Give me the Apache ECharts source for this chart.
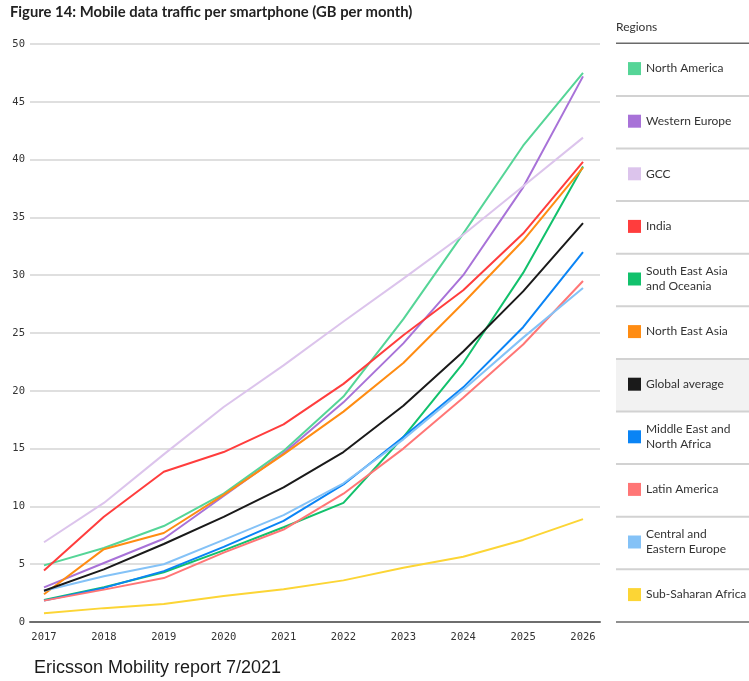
<!DOCTYPE html>
<html>
<head>
<meta charset="utf-8">
<script src="https://cdn.jsdelivr.net/npm/echarts@6/dist/echarts.min.js"></script>
<style>
html,body{margin:0;padding:0;background:#fff;}
#c{width:749px;height:681px;}
</style>
</head>
<body>
<div id="c"></div>
<script>
const years = ['2017','2018','2019','2020','2021','2022','2023','2024','2025','2026'];
const yTicks = [0,5,10,15,20,25,30,35,40,45,50];

const regionNames = ['North America','Western Europe','GCC','India','South East Asia and Oceania','North East Asia','Global average','Middle East and North Africa','Latin America','Central and Eastern Europe','Sub-Saharan Africa'];
const legendLabels = ['North America','Western Europe','GCC','India','South East Asia\nand Oceania','North East Asia','Global average','Middle East and\nNorth Africa','Latin America','Central and\nEastern Europe','Sub-Saharan Africa'];
const regionColors = ['#55d597','#a872d8','#dcc4ec','#ff3d3d','#12c16c','#ff8c12','#1a1a1a','#0a84f5','#ff7676','#84c2f7','#fcd535'];

const northAmerica   = [4.9, 6.4, 8.3, 11.1, 14.8, 19.5, 26.2, 33.6, 41.2, 47.5];
const westernEurope  = [3.0, 5.1, 7.2, 10.9, 14.6, 19.0, 24.1, 30.0, 37.6, 47.2];
const gcc            = [6.9, 10.3, 14.5, 18.6, 22.2, 26.0, 29.7, 33.5, 37.7, 41.9];
const india          = [4.45, 9.1, 13.0, 14.7, 17.1, 20.6, 24.8, 28.7, 33.6, 39.8];
const seaOceania     = [1.9, 3.0, 4.3, 6.2, 8.2, 10.3, 16.0, 22.4, 30.2, 39.4];
const northEastAsia  = [2.4, 6.3, 7.7, 11.0, 14.5, 18.2, 22.4, 27.6, 33.0, 39.3];
const globalAverage  = [2.7, 4.55, 6.75, 9.1, 11.65, 14.7, 18.7, 23.4, 28.6, 34.5];
const mena           = [1.85, 2.95, 4.4, 6.5, 8.75, 11.9, 16.0, 20.3, 25.5, 32.0];
const latinAmerica   = [1.85, 2.8, 3.8, 6.0, 8.0, 11.1, 15.0, 19.4, 24.0, 29.5];
const cee            = [2.7, 3.95, 5.0, 7.1, 9.25, 12.0, 15.8, 20.1, 24.6, 28.9];
const subSaharan     = [0.75, 1.2, 1.56, 2.25, 2.83, 3.6, 4.7, 5.65, 7.1, 8.9];

const seriesValues = [northAmerica, westernEurope, gcc, india, seaOceania, northEastAsia, globalAverage, mena, latinAmerica, cee, subSaharan];

const chart = echarts.init(document.getElementById('c'));

const rowTop = 43.3, rowH = 52.6;
const legends = regionNames.map((n, i) => {
  const lines = legendLabels[i].split('\n').length;
  const h = lines * 15;
  const cy = rowTop + rowH * i + rowH / 2 - 1;
  return {
    data: [n],
    left: 628,
    top: cy - h / 2,
    padding: 0,
    orient: 'vertical',
    icon: 'rect',
    itemWidth: 13,
    itemHeight: 13,
    selectedMode: false,
    formatter: () => legendLabels[i],
    textStyle: { fontFamily: 'Lato', fontSize: 12, color: '#333', lineHeight: 15 }
  };
});

const graphics = [];
graphics.push({ type: 'rect', z: -10, shape: { x: 616, y: rowTop + rowH * 6, width: 133, height: rowH }, style: { fill: '#f2f2f2' } });
for (let i = 0; i <= regionNames.length; i++) {
  const y = rowTop + rowH * i;
  const dark = (i === 0 || i === regionNames.length);
  graphics.push({ type: 'line', z: -5, shape: { x1: 616, y1: y, x2: 749, y2: y }, style: { stroke: dark ? '#6a6a6a' : '#d2d2d2', lineWidth: dark ? 1.5 : 2 } });
}
graphics.push({ type: 'text', left: 616, top: 21, style: { text: 'Regions', font: '12px Lato', fill: '#333' } });
graphics.push({ type: 'text', left: 34, top: 659, style: { text: 'Ericsson Mobility report 7/2021', font: '18px "Liberation Sans", Arial', fill: '#1a1a1a' } });

chart.setOption({
  animation: false,
  backgroundColor: '#fff',
  title: {
    text: 'Figure 14: Mobile data traffic per smartphone (GB per month)',
    left: 10, top: 5, padding: 0,
    textStyle: { fontFamily: 'Lato', fontWeight: 'bold', fontSize: 14.8, color: '#222' }
  },
  legend: legends,
  graphic: graphics,
  grid: [
    { left: 30, right: 149, top: 44, bottom: 59, containLabel: false },
    { left: 44, right: 166, top: 44, bottom: 59, containLabel: false }
  ],
  xAxis: [
    { gridIndex: 0, type: 'value', min: 0, max: 1, axisLabel: { show: false }, axisTick: { show: false }, splitLine: { show: false },
      axisLine: { show: true, lineStyle: { color: '#6e6e6e', width: 2 } } },
    { gridIndex: 1, type: 'category', data: years, boundaryGap: false,
      axisLine: { show: false }, axisTick: { show: false },
      axisLabel: { margin: 10, fontFamily: 'DejaVu Sans Mono', fontSize: 10.5, color: '#333' } }
  ],
  yAxis: [
    { gridIndex: 0, type: 'value', min: 0, max: 50, interval: 5,
      axisLine: { show: false }, axisTick: { show: false },
      axisLabel: { margin: 5, fontFamily: 'DejaVu Sans Mono', fontSize: 10.5, color: '#333', formatter: v => String(v) },
      splitLine: { show: true, lineStyle: { color: '#d4d4d4', width: 1.5 } } },
    { gridIndex: 1, type: 'value', min: 0, max: 50, interval: 5, show: false, splitLine: { show: false } }
  ],
  series: regionNames.map((n, i) => ({
    name: n,
    type: 'line',
    xAxisIndex: 1,
    yAxisIndex: 1,
    data: seriesValues[i],
    showSymbol: false,
    symbol: 'none',
    color: regionColors[i],
    lineStyle: { width: 2, color: regionColors[i] },
    z: i === 6 ? 5 : 3
  }))
});
</script>
</body>
</html>
